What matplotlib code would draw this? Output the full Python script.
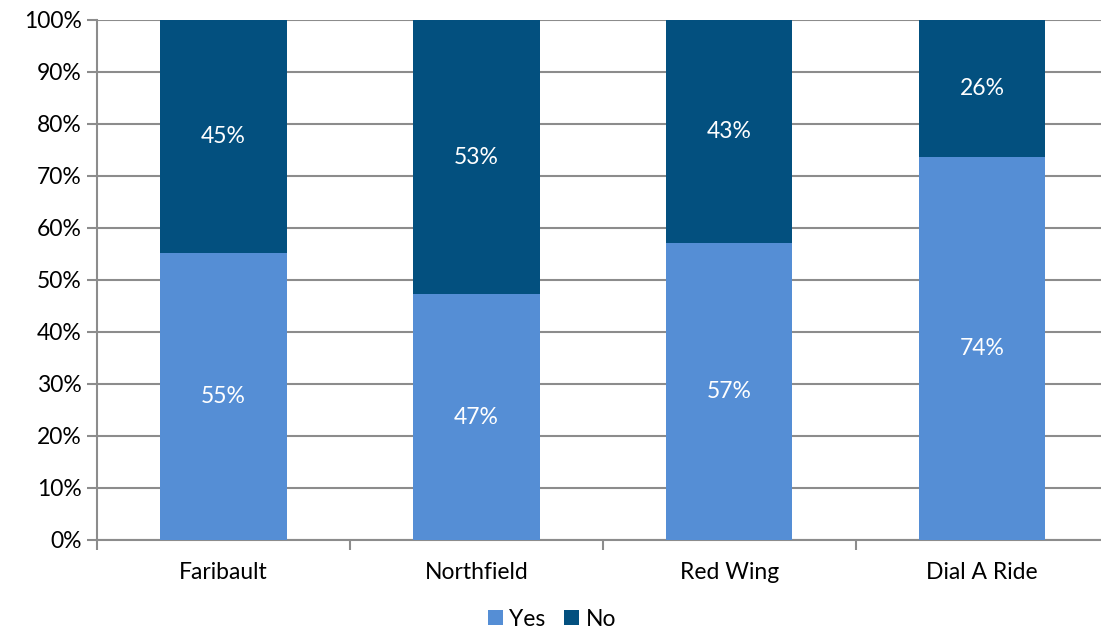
import numpy as np
import matplotlib.pyplot as plt
from matplotlib.ticker import PercentFormatter

categories = ["Faribault", "Northfield", "Red Wing", "Dial A Ride"]
yes_vals = [55.2, 47.3, 57.1, 73.7]
no_vals = [44.8, 52.7, 42.9, 26.3]
yes_labels = ["55%", "47%", "57%", "74%"]
no_labels = ["45%", "53%", "43%", "26%"]

YES_COLOR = "#558ed5"
NO_COLOR = "#03507f"
GRID = "#8c8c8c"


def main():
    plt.rcParams['font.family'] = ['Lato', 'DejaVu Sans']
    fig = plt.figure(figsize=(11.01, 6.31), dpi=100)
    # axes spans from x=97 to ~1108 px, y from 20 to 540 px
    ax = fig.add_axes([97 / 1101, (631 - 540) / 631, 1011.5 / 1101, 520 / 631])

    x = np.arange(len(categories))
    ax.bar(x, yes_vals, width=0.5, color=YES_COLOR, label="Yes", zorder=3)
    ax.bar(x, no_vals, width=0.5, bottom=yes_vals, color=NO_COLOR,
           label="No", zorder=3)

    for i in range(len(categories)):
        ax.text(x[i], yes_vals[i] / 2, yes_labels[i], ha='center', va='center',
                color='white', fontsize=16.5, zorder=4)
        ax.text(x[i], yes_vals[i] + no_vals[i] / 2, no_labels[i], ha='center',
                va='center', color='white', fontsize=16.5, zorder=4)

    ax.set_xlim(-0.5, len(categories) - 0.5)
    ax.set_ylim(0, 100)
    ax.set_yticks(np.arange(0, 101, 10))
    ax.yaxis.set_major_formatter(PercentFormatter(decimals=0))
    ax.yaxis.grid(True, color=GRID, lw=1.5, zorder=0)

    ax.set_xticks(x)
    ax.set_xticklabels(categories)
    ax.set_xticks(np.arange(-0.5, len(categories) - 0.5, 1), minor=True)
    ax.tick_params(axis='x', which='major', length=0, pad=16, labelsize=16.5)
    ax.tick_params(axis='x', which='minor', length=7, width=1.5, color=GRID)
    ax.tick_params(axis='y', length=7, width=1.5, color=GRID, labelsize=16.5, pad=4)

    for side in ['top', 'right']:
        ax.spines[side].set_visible(False)
    for side in ['left', 'bottom']:
        ax.spines[side].set_color(GRID)
        ax.spines[side].set_linewidth(1.5)

    fig.legend(loc='center', bbox_to_anchor=(552 / 1101, 1 - 619 / 631), ncol=2,
               frameon=False, fontsize=16.5, handlelength=0.65, handleheight=0.65,
               handletextpad=0.3, columnspacing=0.8)

    fig.savefig("out.png", dpi=100)


if __name__ == "__main__":
    main()
